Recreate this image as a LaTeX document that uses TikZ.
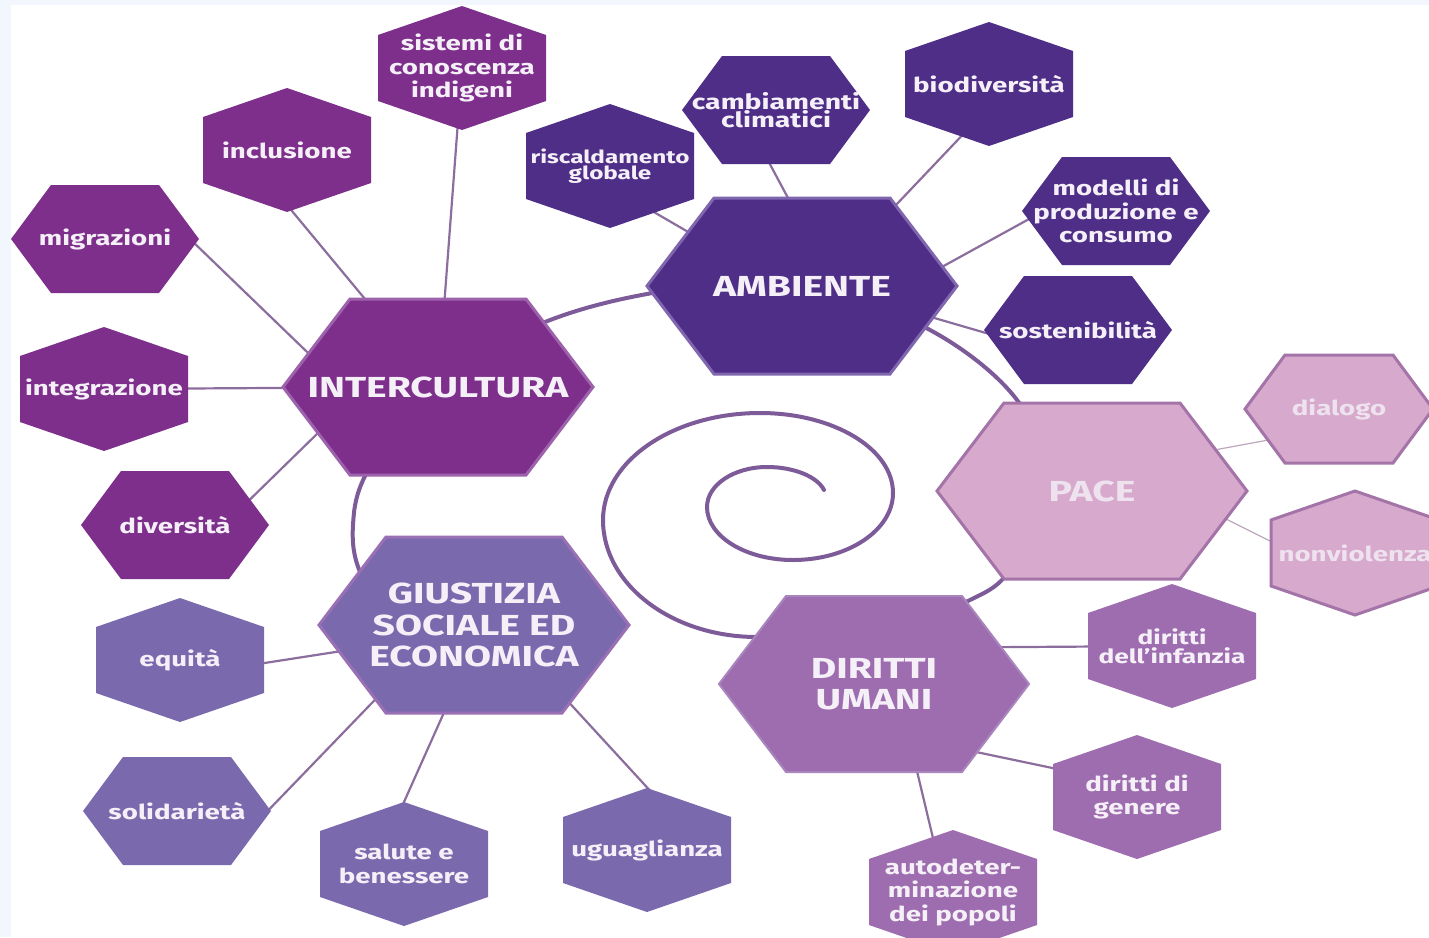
\documentclass[tikz,border=0pt]{standalone}
\usepackage{fontspec}
\setmainfont{Fira Sans}[FakeStretch=1.35]
\usetikzlibrary{calc}

\definecolor{bgblue}{HTML}{F2F7FE}
\definecolor{cInter}{HTML}{7D2F8B}
\definecolor{cInterB}{HTML}{9D62AC}
\definecolor{cAmb}{HTML}{4E2E86}
\definecolor{cAmbB}{HTML}{7F66AE}
\definecolor{cPace}{HTML}{D6A9CD}
\definecolor{cPaceB}{HTML}{A474A8}
\definecolor{cDir}{HTML}{9E6DAF}
\definecolor{cDirB}{HTML}{A985BE}
\definecolor{cGiu}{HTML}{7B69AE}
\definecolor{cGiuB}{HTML}{9A70B4}
\definecolor{cLink}{HTML}{8C6E9E}
\definecolor{cFaint}{HTML}{BBA8BC}
\definecolor{cSpiral}{HTML}{7D5B98}
\definecolor{cText}{HTML}{F5F0F8}

\pgfdeclarelayer{paper}
\pgfdeclarelayer{links}
\pgfdeclarelayer{hexes}
\pgfsetlayers{paper,links,hexes,main}

% hexagons around a named node
\newcommand{\bighex}[2]{\filldraw[#2] (#1.center) +(-155,0) -- +(-88,-88) -- +(88,-88) -- +(155,0) -- +(88,88) -- +(-88,88) -- cycle;}
\newcommand{\flathex}[2]{\filldraw[#2] (#1.center) +(-94,0) -- +(-54,-54) -- +(54,-54) -- +(94,0) -- +(54,54) -- +(-54,54) -- cycle;}
\newcommand{\pointhex}[2]{\filldraw[#2] (#1.center) +(0,-62) -- +(84,-33) -- +(84,33) -- +(0,62) -- +(-84,33) -- +(-84,-33) -- cycle;}

\begin{document}
\begin{tikzpicture}[x=1pt,y=-1pt,
    every node/.style={text=cText,align=center,inner sep=0pt},
    big/.style={font=\fontsize{29}{31.5}\selectfont\bfseries},
    small/.style={font=\fontsize{20.5}{23.5}\selectfont\bfseries},
    link/.style={cLink,line width=2.2},
    faint/.style={cFaint,line width=1.2},
    spiral/.style={cSpiral,line width=4,line cap=round}]
  \useasboundingbox (0,0) rectangle (1429,937);
  \begin{pgfonlayer}{paper}
    \fill[bgblue] (0,0) rectangle (1429,937);
    \fill[white] (11,5) rectangle (1429,937);
  \end{pgfonlayer}

  % main themes
  \node[big] (inter) at (438,387) {INTERCULTURA};
  \node[big] (amb) at (802,286) {AMBIENTE};
  \node[big,text=cText!80!cPace] (pace) at (1092,491) {PACE};
  \node[big] (giu) at (474,625) {GIUSTIZIA\\SOCIALE ED\\ECONOMICA};
  \node[big] (dir) at (874,684) {DIRITTI\\UMANI};

  % intercultura
  \node[small] (sis) at (462,68) {sistemi di\\conoscenza\\indigeni};
  \node[small] (inc) at (287,150) {inclusione};
  \node[small] (mig) at (105,239) {migrazioni};
  \node[small] (intg) at (104,389) {integrazione};
  \node[small] (div) at (175,525) {diversità};
  % ambiente
  \node[small,font=\fontsize{18}{16}\selectfont\bfseries] (risc) at (610,166) {riscaldamento\\globale};
  \node[small,font=\fontsize{21}{15}\selectfont\bfseries] (camb) at (776,110) {cambiamenti\\climatici};
  \node[small] (bio) at (989,84) {biodiversità};
  \node[small] (mod) at (1116,211) {modelli di\\produzione e\\consumo};
  \node[small] (sost) at (1078,330) {sostenibilità};
  % pace
  \node[small,text=cText!80!cPace] (dia) at (1339,409) {dialogo};
  \node[small,text=cText!80!cPace] (nonv) at (1355,553) {nonviolenza};
  % diritti umani
  \node[small,font=\fontsize{19.5}{19}\selectfont\bfseries] (inf) at (1172,646) {diritti\\dell’infanzia};
  \node[small] (gen) at (1137,797) {diritti di\\genere};
  \node[small] (auto) at (953,892) {autodeter-\\minazione\\dei popoli};
  % giustizia
  \node[small] (equ) at (180,660) {equità};
  \node[small] (sol) at (177,811) {solidarietà};
  \node[small] (sal) at (404,864) {salute e\\benessere};
  \node[small] (ugu) at (647,850) {uguaglianza};

  \begin{pgfonlayer}{hexes}
    \bighex{inter}{fill=cInter,draw=cInterB,line width=3}
    \bighex{amb}{fill=cAmb,draw=cAmbB,line width=3}
    \bighex{pace}{fill=cPace,draw=cPaceB,line width=3}
    \bighex{giu}{fill=cGiu,draw=cGiuB,line width=3}
    \bighex{dir}{fill=cDir,draw=cDirB,line width=2}
    \pointhex{sis}{fill=cInter,draw=none}
    \pointhex{inc}{fill=cInter,draw=none}
    \flathex{mig}{fill=cInter,draw=none}
    \pointhex{intg}{fill=cInter,draw=none}
    \flathex{div}{fill=cInter,draw=none}
    \pointhex{risc}{fill=cAmb,draw=none}
    \flathex{camb}{fill=cAmb,draw=none}
    \pointhex{bio}{fill=cAmb,draw=none}
    \flathex{mod}{fill=cAmb,draw=none}
    \flathex{sost}{fill=cAmb,draw=none}
    \flathex{dia}{fill=cPace,draw=cPaceB,line width=3}
    \pointhex{nonv}{fill=cPace,draw=cPaceB,line width=3}
    \pointhex{inf}{fill=cDir,draw=none}
    \pointhex{gen}{fill=cDir,draw=none}
    \pointhex{auto}{fill=cDir,draw=none}
    \pointhex{equ}{fill=cGiu,draw=none}
    \flathex{sol}{fill=cGiu,draw=none}
    \pointhex{sal}{fill=cGiu,draw=none}
    \pointhex{ugu}{fill=cGiu,draw=none}
  \end{pgfonlayer}

  \begin{pgfonlayer}{links}
    % spiral: outer turn behind the themes, inner curl of quarter ellipses
    \draw[spiral] plot[smooth,tension=0.55] coordinates {(400,640) (360,572) (353,525) (366,474)
      (425,385) (540,324) (647,294) (790,278) (930,330) (1017,400) (1050,490) (1008,573)
      (960,605) (860,650) (757,637)}
      arc[start angle=90,end angle=180,x radius=154,y radius=117]
      arc[start angle=180,end angle=270,x radius=157,y radius=107]
      arc[start angle=270,end angle=360,x radius=133,y radius=80]
      arc[start angle=0,end angle=90,x radius=100,y radius=67]
      arc[start angle=90,end angle=180,x radius=86,y radius=53]
      arc[start angle=180,end angle=270,x radius=60,y radius=40]
      arc[start angle=270,end angle=345,x radius=59,y radius=31];
    \draw[link] (sis) -- (inter);
    \draw[link] ($(inc)+(0,55)$) -- (inter);
    \draw[link] ($(mig)+(85,0)$) -- ($(inter)+(-48,45)$);
    \draw[link] (intg) -- (inter);
    \draw[link] ($(div)+(55,-6)$) -- ($(inter)+(-73,0)$);
    \draw[link] ($(risc)+(30,38)$) -- ($(amb)+(0,12)$);
    \draw[link] ($(camb)+(-35,0)$) -- ($(amb)+(33,0)$);
    \draw[link] ($(bio)+(0,23)$) -- ($(amb)+(0,18)$);
    \draw[link] ($(mod)+(-56,-9)$) -- ($(amb)+(98,4)$);
    \draw[link] ($(amb)+(98,22)$) -- ($(sost)+(-68,10)$);
    \draw[faint] ($(pace)+(106,-38)$) -- ($(dia)+(-49,27)$);
    \draw[faint] ($(pace)+(116,19)$) -- ($(nonv)+(-55,3)$);
    \draw[link] ($(dir)+(0,-36)$) -- (inf);
    \draw[link] ($(dir)+(26,52)$) -- ($(gen)+(-37,-19)$);
    \draw[link] ($(dir)+(26,16)$) -- ($(auto)+(-10,-12)$);
    \draw[link] ($(giu)+(-74,17)$) -- ($(equ)+(20,13)$);
    \draw[link] ($(giu)+(-51,25)$) -- ($(sol)+(53,39)$);
    \draw[link] ($(giu)+(-11,45)$) -- ($(sal)+(-17,-24)$);
    \draw[link] ($(giu)+(56,35)$) -- ($(ugu)+(30,-30)$);
  \end{pgfonlayer}
\end{tikzpicture}
\end{document}
